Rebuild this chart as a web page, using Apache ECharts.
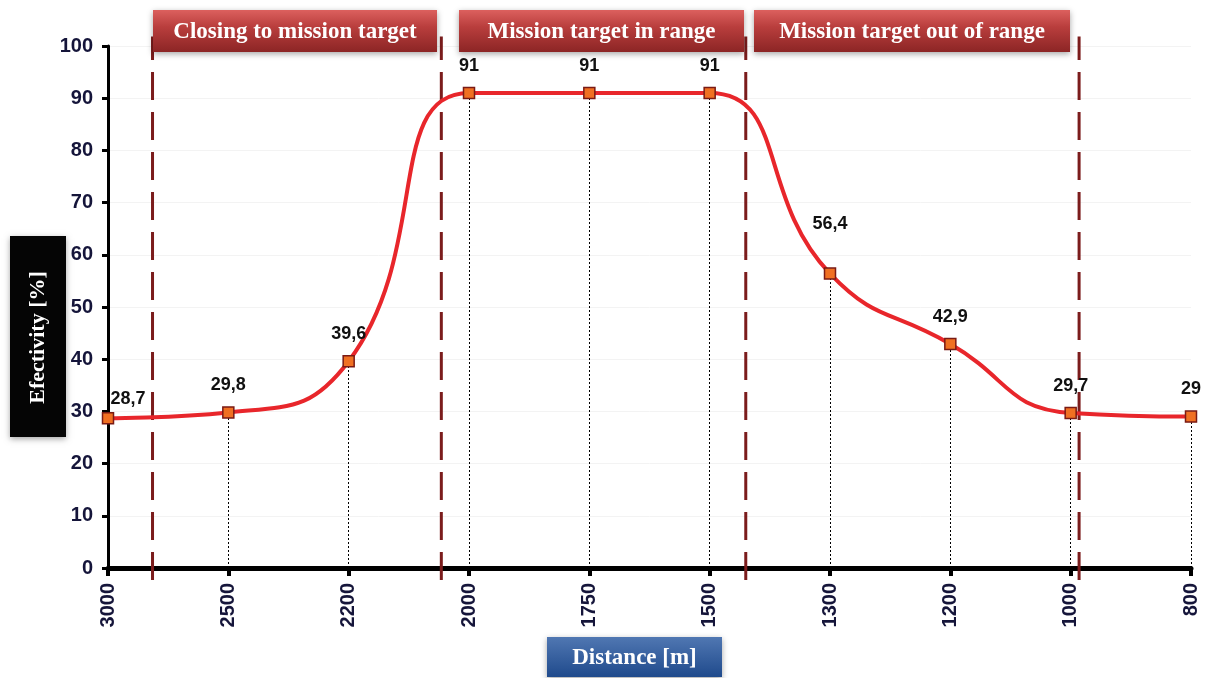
<!DOCTYPE html>
<html>
<head>
<meta charset="utf-8">
<script src="https://cdn.jsdelivr.net/npm/echarts@6/dist/echarts.min.js"></script>
<style>
  html, body { margin: 0; padding: 0; background: #fff; }
  #chart { width: 1211px; height: 678px; }
</style>
</head>
<body>
<div id="chart"></div>
<script>
const distances = ['3000', '2500', '2200', '2000', '1750', '1500', '1300', '1200', '1000', '800'];
const effectivity = [28.7, 29.8, 39.6, 91, 91, 91, 56.4, 42.9, 29.7, 29];
// zone borders, in category-index units
const dividers = [0.37, 2.77, 5.3, 8.07];
const zones = ['Closing to mission target', 'Mission target in range', 'Mission target out of range'];

const chart = echarts.init(document.getElementById('chart'));

const fmt = (v) => String(v).replace('.', ',');
const tickFont = { fontFamily: 'Liberation Sans', fontWeight: 'bold', fontSize: 20, color: '#15153a' };

const redBox = {
  type: 'linear', x: 0, y: 0, x2: 0, y2: 1,
  colorStops: [{ offset: 0, color: '#dc605e' }, { offset: 0.4, color: '#b93e3d' }, { offset: 1, color: '#8c2525' }]
};
const blueBox = {
  type: 'linear', x: 0, y: 0, x2: 0, y2: 1,
  colorStops: [{ offset: 0, color: '#5077b2' }, { offset: 1, color: '#1f4a8c' }]
};

// box with a centred label, drawn as plain graphic elements
const box = (x, y, w, h, fill, text, size, rot) => [{
  type: 'rect',
  shape: { x: x, y: y, width: w, height: h },
  style: { fill: fill, shadowBlur: 6, shadowColor: 'rgba(0,0,0,0.35)', shadowOffsetY: 2 },
  z: 100
}, {
  type: 'text',
  x: x + w / 2,
  y: y + h / 2 + 1,
  rotation: rot || 0,
  style: {
    text: text, fill: '#fff', align: 'center', verticalAlign: 'middle',
    fontFamily: 'Liberation Serif', fontWeight: 'bold', fontSize: size
  },
  z: 101
}];

chart.setOption({
  animation: false,
  grid: { left: 108, right: 20, top: 46, bottom: 110 },
  xAxis: [{
    type: 'category',
    data: distances,
    boundaryGap: false,
    axisLine: { lineStyle: { color: '#000', width: 5 } },
    axisTick: { show: true, length: 8, lineStyle: { color: '#000', width: 4 } },
    axisLabel: { rotate: 90, margin: 15, ...tickFont },
    splitLine: { show: false }
  }, {
    type: 'value', min: 0, max: distances.length - 1, show: false
  }],
  yAxis: {
    type: 'value',
    min: 0, max: 100, interval: 10,
    axisLine: { show: true, lineStyle: { color: '#000', width: 3 } },
    axisTick: { show: true, length: 6, lineStyle: { color: '#000', width: 3 } },
    axisLabel: { margin: 15, ...tickFont },
    splitLine: { show: true, lineStyle: { color: '#f3f3f3', width: 1 } }
  },
  series: [{
    type: 'line',
    data: effectivity,
    smooth: 0.5,
    clip: false,
    symbol: 'rect',
    symbolSize: 11,
    lineStyle: { color: '#e8262b', width: 4 },
    itemStyle: { color: '#f07022', borderColor: '#7a1a14', borderWidth: 1.5 },
    label: {
      show: true, position: 'top', distance: 12,
      formatter: (p) => fmt(p.value),
      fontFamily: 'Liberation Sans', fontWeight: 'bold', fontSize: 18, color: '#111'
    },
    labelLayout: (p) => p.dataIndex === 0 ? { dx: 20, dy: 8 } : (p.dataIndex === 6 ? { dy: -22 } : {}),
    z: 5,
    markLine: {
      silent: true,
      symbol: 'none',
      label: { show: false },
      lineStyle: { color: '#000', type: [2, 2], width: 1 },
      data: effectivity.slice(1).map((v, i) => [
        { coord: [distances[i + 1], 0] },
        { coord: [distances[i + 1], v] }
      ])
    }
  }].concat(dividers.map((d) => ({
    type: 'line',
    xAxisIndex: 1,
    data: [[d, -2.3], [d, 101.8]],
    clip: false,
    symbol: 'none',
    silent: true,
    z: 4,
    lineStyle: { color: '#7b1c1c', type: [28, 12], width: 3 }
  }))),
  graphic: [].concat(
    box(153, 10, 284, 42, redBox, zones[0], 23),
    box(459, 10, 285, 42, redBox, zones[1], 23),
    box(754, 10, 316, 42, redBox, zones[2], 23),
    box(10, 236, 56, 201, '#050505', 'Efectivity [%]', 22, Math.PI / 2),
    box(547, 637, 175, 40, blueBox, 'Distance [m]', 23)
  )
});

window.addEventListener('resize', () => chart.resize());
</script>
</body>
</html>
